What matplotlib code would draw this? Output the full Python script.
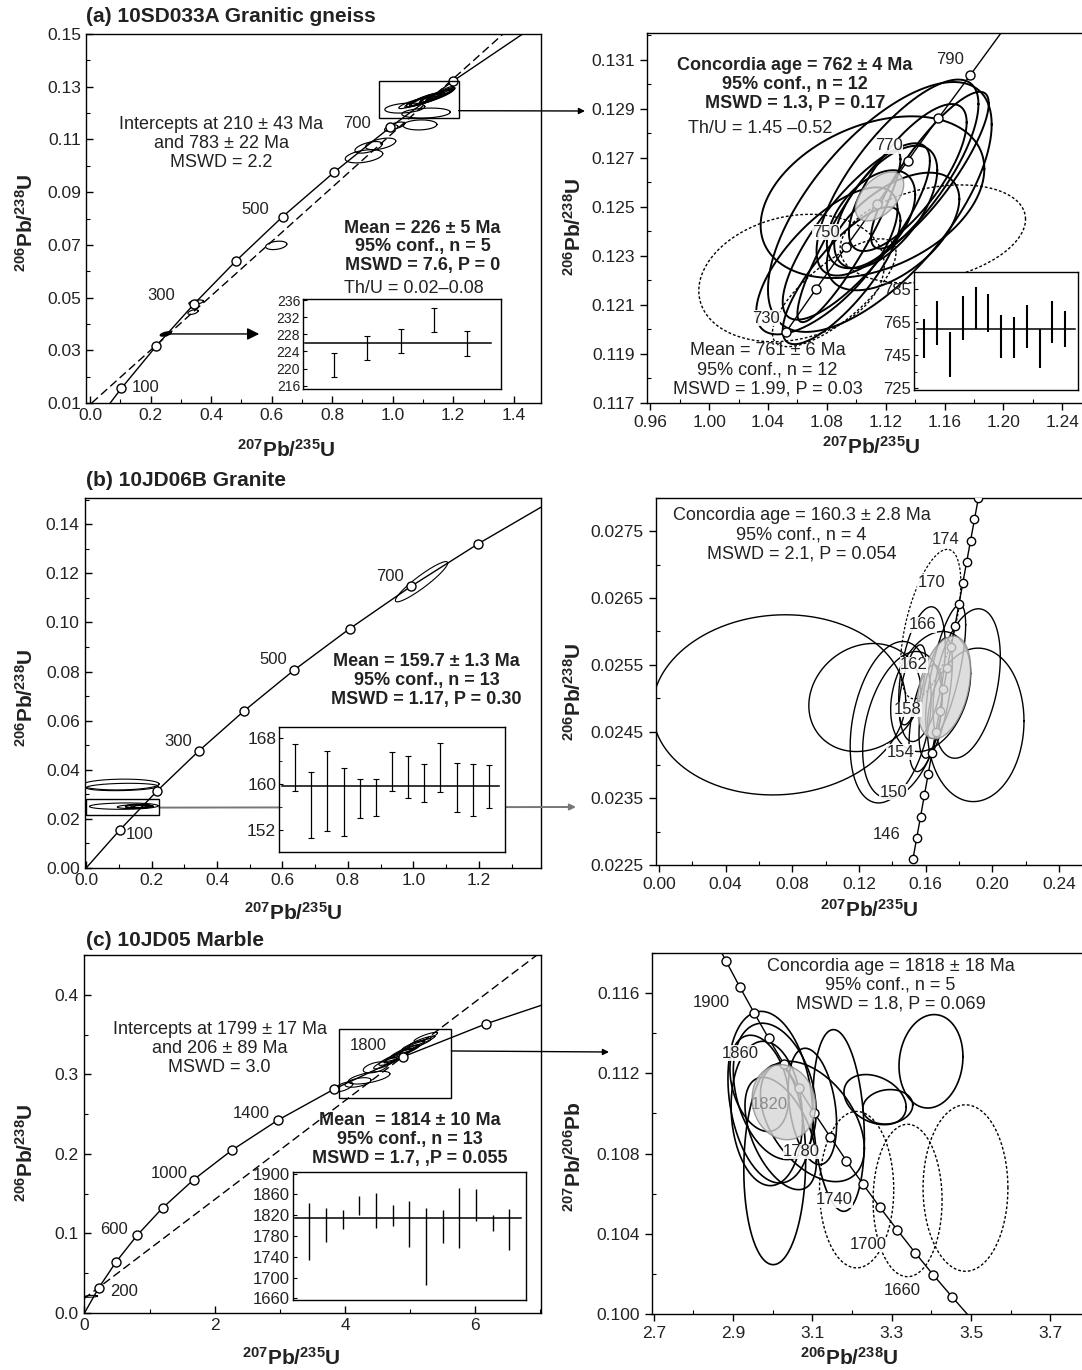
import numpy as np
import matplotlib
matplotlib.use("Agg")
import matplotlib.pyplot as plt
from matplotlib.patches import Rectangle
from matplotlib.ticker import FixedLocator, FormatStrFormatter, NullLocator

W, H = 1082, 1370

# ---------------- data ----------------
# concordia reference points, Wetherill (207Pb/235U, 206Pb/238U)
conc_ab_age = [0, 100, 200, 300, 400, 500, 600, 700, 800, 900, 1000]
conc_ab_x = [0.0, 0.1035, 0.2177, 0.3437, 0.4828, 0.6362, 0.8057, 0.9925, 1.1987, 1.4255, 1.6774]
conc_ab_y = [0.0, 0.0156, 0.0315, 0.0476, 0.0640, 0.0807, 0.0975, 0.1147, 0.1321, 0.1497, 0.1678]

conc_a2_age = [730, 740, 750, 760, 770, 780, 790, 800]
conc_a2_x = [1.0523, 1.0725, 1.0931, 1.1138, 1.1348, 1.1557, 1.1773, 1.1987]
conc_a2_y = [0.11990, 0.12164, 0.12338, 0.12512, 0.12687, 0.12862, 0.13037, 0.13213]

conc_b2_age = [144, 146, 148, 150, 152, 154, 156, 158, 160, 162, 164, 166, 168, 170, 172, 174, 176, 178, 180]
conc_b2_x = [0.15237, 0.15464, 0.15692, 0.15920, 0.16148, 0.16377, 0.16607, 0.16837, 0.17067, 0.17298,
             0.17529, 0.17761, 0.17993, 0.18226, 0.18459, 0.18692, 0.18926, 0.19161, 0.19396]
conc_b2_y = [0.022589, 0.022907, 0.023224, 0.023542, 0.023859, 0.024177, 0.024495, 0.024813, 0.025131,
             0.025449, 0.025767, 0.026085, 0.026404, 0.026722, 0.027041, 0.027359, 0.027678, 0.027997, 0.028316]

conc_c1_age = [0, 200, 400, 600, 800, 1000, 1200, 1400, 1600, 1800, 2000, 2200]
conc_c1_x = [0.0, 0.2177, 0.4828, 0.8057, 1.1987, 1.6774, 2.2603, 2.9703, 3.8344, 4.8870, 6.1687, 7.7299]
conc_c1_y = [0.0, 0.0315, 0.0640, 0.0975, 0.1321, 0.1678, 0.2046, 0.2426, 0.2817, 0.3221, 0.3638, 0.4067]

# Tera-Wasserburg reference points
conc_c2_age = [1940, 1920, 1900, 1880, 1860, 1840, 1820, 1800, 1780, 1760, 1740, 1720, 1700, 1680, 1660, 1640, 1620]
conc_c2_x = [2.8480, 2.8823, 2.9174, 2.9532, 2.9898, 3.0273, 3.0655, 3.1045, 3.1446, 3.1855, 3.2273,
             3.2701, 3.3140, 3.3588, 3.4048, 3.4519, 3.5000]
conc_c2_y = [0.11892, 0.11759, 0.11629, 0.11501, 0.11374, 0.11249, 0.11125, 0.11003, 0.10884, 0.10765,
             0.10648, 0.10532, 0.10419, 0.10306, 0.10195, 0.10086, 0.09978]

# discordia anchor points (lower / upper intercept)
disc_a_x = [0.2297, 1.1622]
disc_a_y = [0.03311, 0.12914]
disc_c_x = [0.2249, 4.8822]
disc_c_y = [0.03247, 0.32191]

# error ellipses (cx, cy, half-extent x, half-extent y, rho)
a1_ell = [
    (1.125, 0.1257, 0.065, 0.0030, 0.92), (1.100, 0.1250, 0.055, 0.0026, 0.90),
    (1.145, 0.1264, 0.055, 0.0026, 0.90), (1.160, 0.1272, 0.045, 0.0022, 0.92),
    (1.085, 0.1243, 0.045, 0.0022, 0.88), (1.130, 0.1260, 0.040, 0.0019, 0.90),
    (1.150, 0.1267, 0.040, 0.0020, 0.88), (1.110, 0.1252, 0.050, 0.0024, 0.85),
    (1.170, 0.1280, 0.035, 0.0017, 0.90), (1.095, 0.1247, 0.040, 0.0019, 0.88),
    (1.060, 0.1235, 0.040, 0.0018, 0.85), (1.140, 0.1262, 0.030, 0.0015, 0.90),
    (1.120, 0.1255, 0.030, 0.0015, 0.90), (1.175, 0.1287, 0.025, 0.0014, 0.90),
    (1.040, 0.1219, 0.066, 0.0019, 0.30), (1.110, 0.1200, 0.080, 0.0019, 0.20),
    (1.090, 0.1155, 0.056, 0.0019, 0.10), (1.010, 0.1152, 0.030, 0.0014, 0.60),
    (0.995, 0.1143, 0.022, 0.0012, 0.50), (0.960, 0.1083, 0.050, 0.0022, 0.50),
    (0.920, 0.1070, 0.045, 0.0022, 0.55), (0.905, 0.1036, 0.062, 0.0025, 0.40),
    (0.615, 0.0698, 0.035, 0.0016, 0.30), (0.350, 0.0482, 0.024, 0.0009, 0.50),
    (0.340, 0.0445, 0.017, 0.0009, 0.50),
]
a1_black = (0.250, 0.0362, 0.018, 0.0008, 0.60)

a2_ell = [
    (1.116, 0.1250, 0.076, 0.0051, 0.66), (1.111, 0.1254, 0.076, 0.0033, 0.35),
    (1.128, 0.1262, 0.055, 0.0040, 0.75), (1.080, 0.1228, 0.048, 0.0030, 0.70),
    (1.100, 0.1240, 0.050, 0.0036, 0.80), (1.135, 0.1262, 0.040, 0.0030, 0.75),
    (1.120, 0.1250, 0.035, 0.0025, 0.60), (1.095, 0.1238, 0.035, 0.0035, 0.90),
    (1.150, 0.1265, 0.040, 0.0032, 0.85), (1.110, 0.1245, 0.030, 0.0020, 0.50),
    (1.125, 0.1240, 0.045, 0.0024, 0.55), (1.090, 0.1222, 0.040, 0.0028, 0.80),
]
a2_dot = [
    (1.056, 0.1221, 0.063, 0.0026, 0.20), (1.152, 0.1239, 0.063, 0.0020, 0.30),
    (1.085, 0.1215, 0.042, 0.0022, 0.75),
]
a2_mean_ell = (1.1158, 0.12543, 0.0164, 0.00100, 0.50)

b1_ell = [
    (1.025, 0.1166, 0.080, 0.0082, 0.93), (0.105, 0.0340, 0.118, 0.0022, 0.10),
    (0.110, 0.0330, 0.110, 0.0015, 0.20), (0.115, 0.0252, 0.105, 0.0013, 0.10),
    (0.150, 0.0250, 0.055, 0.0008, 0.20), (0.160, 0.0251, 0.040, 0.0007, 0.30),
    (0.165, 0.0249, 0.030, 0.0006, 0.30), (0.155, 0.0253, 0.035, 0.0007, 0.20),
    (0.170, 0.0252, 0.025, 0.0006, 0.40),
]

b2_ell = [
    (0.072, 0.02490, 0.0760, 0.00135, 0.05), (0.1235, 0.02501, 0.0336, 0.00081, 0.15),
    (0.139, 0.02464, 0.0243, 0.00121, 0.30), (0.146, 0.02460, 0.0238, 0.00110, 0.35),
    (0.1578, 0.02536, 0.0140, 0.00101, 0.40), (0.1846, 0.02522, 0.0202, 0.00112, 0.35),
    (0.190, 0.02460, 0.0290, 0.00115, 0.05), (0.163, 0.02510, 0.0240, 0.00090, 0.30),
    (0.166, 0.02500, 0.0100, 0.00090, 0.60), (0.172, 0.02540, 0.0120, 0.00100, 0.70),
    (0.160, 0.02470, 0.0100, 0.00080, 0.50), (0.152, 0.02520, 0.0080, 0.00060, 0.60),
]
b2_dot = [(0.163, 0.02611, 0.0181, 0.00112, 0.55)]
b2_mean_ell = (0.171, 0.02516, 0.0160, 0.00077, 0.35)

c1_ell = [
    (3.98, 0.2845, 0.14, 0.0060, 0.60), (4.37, 0.2960, 0.32, 0.0080, 0.60),
    (4.47, 0.3090, 0.19, 0.0070, 0.50), (4.20, 0.2900, 0.20, 0.0060, 0.50),
    (4.62, 0.3140, 0.18, 0.0070, 0.85), (4.72, 0.3190, 0.20, 0.0075, 0.85),
    (4.82, 0.3240, 0.20, 0.0075, 0.90), (4.92, 0.3290, 0.22, 0.0080, 0.90),
    (5.02, 0.3340, 0.20, 0.0075, 0.90), (5.10, 0.3380, 0.22, 0.0070, 0.90),
    (5.18, 0.3420, 0.20, 0.0065, 0.90), (5.24, 0.3470, 0.18, 0.0060, 0.85),
    (4.88, 0.3270, 0.15, 0.0060, 0.90), (5.00, 0.3320, 0.15, 0.0055, 0.90),
    (4.75, 0.3200, 0.15, 0.0055, 0.90), (0.10, 0.0210, 0.10, 0.0012, 0.30),
]

c2_ell = [
    (2.994, 0.11081, 0.107, 0.00428, -0.22), (3.005, 0.11110, 0.1045, 0.00340, -0.30),
    (3.005, 0.10745, 0.078, 0.00499, 0.05), (3.100, 0.10960, 0.131, 0.00300, -0.45),
    (3.166, 0.10965, 0.065, 0.00453, -0.20), (3.100, 0.11035, 0.061, 0.00290, -0.30),
    (3.258, 0.11069, 0.0784, 0.00125, -0.30), (3.290, 0.11033, 0.063, 0.00086, 0.10),
    (3.399, 0.11260, 0.0806, 0.00233, 0.10), (2.966, 0.11150, 0.074, 0.00240, -0.30),
    (3.020, 0.10900, 0.090, 0.00280, -0.50), (2.985, 0.11000, 0.090, 0.00360, -0.10),
]
c2_dot = [
    (3.2115, 0.10620, 0.0936, 0.00390, 0.0), (3.340, 0.10566, 0.087, 0.00380, 0.0),
    (3.486, 0.10628, 0.107, 0.00415, 0.0),
]
c2_mean_ell = (3.028, 0.11056, 0.080, 0.00187, -0.10)

# weighted-mean insets: (low, high) ages of each spot
a1_lo = [217.9, 222.0, 223.6, 228.6, 223.0]
a1_hi = [223.7, 227.7, 229.2, 234.2, 228.8]
a1_mean = 226

a2_lo = [743, 751, 732, 754, 760.6, 759, 743, 743, 749, 737, 752, 750]
a2_hi = [766.6, 777.6, 758.6, 780.6, 785.8, 781.8, 769, 768, 775, 761, 777.6, 771.6]
a2_mean = 761

b1_lo = [158.8, 150.7, 151.9, 151.0, 154.2, 154.5, 158.8, 157.7, 156.9, 158.7, 155.1, 154.5, 155.8]
b1_hi = [167.0, 162.2, 165.8, 162.8, 161.0, 160.9, 165.6, 164.9, 163.5, 167.2, 163.7, 163.5, 163.3]
b1_mean = 159.7

c1_lo = [1733.6, 1768.8, 1793.1, 1820.0, 1796.3, 1799.5, 1757.9, 1685.6, 1767.5, 1756.0, 1808.5, 1789.9, 1752.8]
c1_hi = [1843.7, 1834.1, 1830.9, 1857.1, 1862.9, 1840.5, 1846.9, 1834.1, 1829.6, 1873.1, 1869.9, 1820.0, 1832.8]
c1_mean = 1814

# ---------------- style ----------------
plt.rcParams.update({
    "font.family": ["Liberation Sans", "DejaVu Sans"],
    "mathtext.fontset": "custom",
    "mathtext.rm": "Liberation Sans",
    "mathtext.bf": "Liberation Sans:bold",
    "mathtext.it": "Liberation Sans:italic",
    "axes.linewidth": 1.0,
})

fig = plt.figure(figsize=(W / 100, H / 100), dpi=100)

LAB_WL = "$^{\\mathbf{207}}$Pb/$^{\\mathbf{235}}$U"
LAB_WR = "$^{\\mathbf{206}}$Pb/$^{\\mathbf{238}}$U"
LAB_TW = "$^{\\mathbf{207}}$Pb/$^{\\mathbf{206}}$Pb"
TXT = 13
AGE_TXT = 12


def add_ax(box):
    l, t, r, b = box
    return fig.add_axes([l / W, 1 - b / H, (r - l) / W, (b - t) / H])


def ticks(start, stop, step):
    n = int(round((stop - start) / step))
    return [round(start + i * step, 6) for i in range(n + 1)]


def style_main(ax, box, xlim, ylim, xt, yt, xfmt, yfmt, xlab, ylab, xl_px, yl_px, outer=False):
    ax.set_xlim(*xlim)
    ax.set_ylim(*ylim)
    ax.xaxis.set_major_locator(FixedLocator(xt))
    ax.yaxis.set_major_locator(FixedLocator(yt))
    dx = xt[1] - xt[0]
    dy = yt[1] - yt[0]
    ax.xaxis.set_minor_locator(FixedLocator(ticks(xt[0] - dx / 2, xt[-1] + dx / 2, dx / 2)))
    ax.yaxis.set_minor_locator(FixedLocator(ticks(yt[0] - dy / 2, yt[-1] + dy / 2, dy / 2)))
    ax.xaxis.set_major_formatter(FormatStrFormatter(xfmt))
    ax.yaxis.set_major_formatter(FormatStrFormatter(yfmt))
    ax.tick_params(which="both", direction="in", labelsize=12.5, labelcolor="#222222")
    ax.tick_params(which="major", length=5, width=1.0)
    ax.tick_params(which="minor", length=3, width=0.8)
    if outer:
        ax.tick_params(axis="both", which="major", direction="out", length=5)
    l, t, r, b = box
    ax.set_xlabel(xlab, fontsize=15, fontweight="bold", color="#222222")
    ax.set_ylabel(ylab, fontsize=15, fontweight="bold", color="#222222")
    ax.xaxis.label.set_va("center")
    ax.yaxis.label.set_va("center")
    ax.yaxis.label.set_ha("center")
    ax.xaxis.set_label_coords((xl_px[0] - l) / (r - l), (b - xl_px[1]) / (b - t))
    ax.yaxis.set_label_coords((yl_px[0] - l) / (r - l), (b - yl_px[1]) / (b - t))


def ellipse_path(cx, cy, sx, sy, rho):
    t = np.linspace(0, 2 * np.pi, 241)
    x = cx + sx * np.cos(t)
    y = cy + sy * (rho * np.cos(t) + np.sqrt(1 - rho ** 2) * np.sin(t))
    return x, y


def draw_ellipses(ax, rows, lw=0.9, ls="-"):
    for row in rows:
        x, y = ellipse_path(*row)
        ax.plot(x, y, color="black", lw=lw, ls=ls, zorder=2)


def draw_mean_ellipse(ax, row):
    x, y = ellipse_path(*row)
    ax.fill(x, y, facecolor="#d6d6d6", edgecolor="#8a8a8a", lw=1.0, alpha=0.8, zorder=5.5)


def draw_concordia(ax, xs, ys, ages, marked, ms=6.5):
    ax.plot(xs, ys, color="black", lw=1.0, zorder=4)
    mx = [x for x, a in zip(xs, ages) if a in marked]
    my = [y for y, a in zip(ys, ages) if a in marked]
    ax.plot(mx, my, "o", ms=ms, mfc="white", mec="black", mew=1.0, zorder=5)


def age_label(ax, x, y, s, color="#222222", box=True):
    kw = dict(fontsize=AGE_TXT, ha="center", va="center", color=color, zorder=7)
    if box:
        kw["bbox"] = dict(facecolor="white", edgecolor="none", pad=0.3, alpha=0.9)
    ax.text(x, y, s, **kw)


def block(ax, x, y, s, bold=False, size=TXT):
    ax.text(x, y, s, ha="center", va="center", fontsize=size, linespacing=1.15,
            fontweight="bold" if bold else "normal", color="#222222", zorder=7)


def inset(box, lo, hi, mean, ylim, yt, xlim, size, caps=0, lw=1.0, minor=None, line_span=(0.01, 0.98)):
    ax = add_ax(box)
    ax.set_facecolor("white")
    ax.set_zorder(10)
    pos = np.arange(1, len(lo) + 1)
    lo = np.asarray(lo)
    hi = np.asarray(hi)
    mid = (lo + hi) / 2
    ax.errorbar(pos, mid, yerr=(hi - lo) / 2, fmt="none", ecolor="black", elinewidth=lw, capsize=caps, capthick=0.8)
    ax.axhline(mean, xmin=line_span[0], xmax=line_span[1], color="black", lw=1.1)
    ax.set_xlim(*xlim)
    ax.set_ylim(*ylim)
    ax.yaxis.set_major_locator(FixedLocator(yt))
    if minor is not None:
        ax.yaxis.set_minor_locator(FixedLocator(minor))
    ax.xaxis.set_major_locator(NullLocator())
    ax.tick_params(which="both", direction="in", labelsize=size, length=3, pad=2, labelcolor="#222222")
    ax.tick_params(which="minor", length=2)
    for s in ax.spines.values():
        s.set_linewidth(1.0)
    return ax


# ---------------- (a) left ----------------
box_a1 = (86, 34, 541, 403)
ax = add_ax(box_a1)
style_main(ax, box_a1, (-0.0136, 1.49), (0.01, 0.15), ticks(0, 1.4, 0.2), ticks(0.01, 0.15, 0.02),
           "%.1f", "%.2f", LAB_WL, LAB_WR, (286, 450), (26, 223))
ax.axline((disc_a_x[0], disc_a_y[0]), (disc_a_x[1], disc_a_y[1]), color="black", lw=1.0, ls=(0, (6, 3)))
draw_ellipses(ax, a1_ell, lw=0.85)
bx, by = ellipse_path(*a1_black)
ax.fill(bx, by, color="black", zorder=3)
draw_concordia(ax, conc_ab_x, conc_ab_y, conc_ab_age, set(range(100, 801, 100)))
ax.add_patch(Rectangle((0.953, 0.1181), 1.218 - 0.953, 0.1320 - 0.1181, fill=False, lw=1.0, zorder=6))
for x, y, s in [(0.185, 0.0157, "100"), (0.235, 0.0506, "300"), (0.546, 0.0836, "500"), (0.883, 0.1162, "700")]:
    age_label(ax, x, y, s, box=False)
block(ax, 0.433, 0.1085, "Intercepts at 210 ± 43 Ma\nand 783 ± 22 Ma\nMSWD = 2.2")
block(ax, 1.098, 0.0692, "Mean = 226 ± 5 Ma\n95% conf., n = 5\nMSWD = 7.6, P = 0", bold=True)
block(ax, 1.071, 0.0536, "Th/U = 0.02–0.08")
ax.annotate("", xy=(0.568, 0.0362), xytext=(0.25, 0.0362),
            arrowprops=dict(arrowstyle="-|>", lw=1.0, color="black", mutation_scale=18), zorder=6)
ax.annotate("", xy=(585 / W, 1 - 111 / H), xycoords="figure fraction", xytext=(1.218, 0.1209),
            textcoords="data", annotation_clip=False,
            arrowprops=dict(arrowstyle="-|>", lw=1.0, color="black", mutation_scale=9, shrinkA=0, shrinkB=0))
fig.text(86 / W, 1 - 17 / H, "(a) 10SD033A Granitic gneiss", fontsize=15, fontweight="bold",
         va="center", ha="left", color="#222222")
inset((303, 299, 501, 389), a1_lo, a1_hi, a1_mean, (215.2, 236.3), ticks(216, 236, 4), (0.06, 6.02), 10,
      caps=2, lw=0.9, line_span=(0.01, 0.95))

# ---------------- (a) right ----------------
box_a2 = (647, 33, 1090, 403)
ax = add_ax(box_a2)
style_main(ax, box_a2, (0.9578, 1.2588), (0.117, 0.1321), ticks(0.96, 1.24, 0.04), ticks(0.117, 0.131, 0.002),
           "%.2f", "%.3f", LAB_WL, LAB_WR, (871, 447), (574, 227), outer=True)
draw_ellipses(ax, a2_dot, lw=1.0, ls=(0, (2, 1.5)))
draw_ellipses(ax, a2_ell, lw=1.4)
draw_mean_ellipse(ax, a2_mean_ell)
draw_concordia(ax, conc_a2_x, conc_a2_y, conc_a2_age, set(range(730, 791, 10)))
age_label(ax, 1.1638, 0.1310, "790")
age_label(ax, 1.1221, 0.12749, "770")
age_label(ax, 1.0795, 0.12397, "750")
age_label(ax, 1.0385, 0.12046, "730")
block(ax, 1.0584, 0.1300, "Concordia age = 762 ± 4 Ma\n95% conf., n = 12\nMSWD = 1.3, P = 0.17", bold=True)
block(ax, 1.035, 0.1282, "Th/U = 1.45 –0.52")
block(ax, 1.0397, 0.11836, "Mean = 761 ± 6 Ma\n95% conf., n = 12\nMSWD = 1.99, P = 0.03")
inset((914, 272, 1078, 390), a2_lo, a2_hi, a2_mean, (724, 795), [725, 745, 765, 785], (0.2, 13.0), 12,
      caps=0, lw=1.5, minor=[735, 755, 775], line_span=(0.02, 0.98))

# ---------------- (b) left ----------------
box_b1 = (84.5, 498, 541, 868)
ax = add_ax(box_b1)
style_main(ax, box_b1, (-0.005, 1.39), (0.0, 0.1507), ticks(0, 1.4, 0.2), ticks(0, 0.14, 0.02),
           "%.1f", "%.2f", LAB_WL, LAB_WR, (293, 913), (26, 698))
draw_ellipses(ax, b1_ell, lw=0.8)
draw_concordia(ax, conc_ab_x, conc_ab_y, conc_ab_age, set(range(100, 801, 100)))
ax.add_patch(Rectangle((0.0, 0.0214), 0.224, 0.0281 - 0.0214, fill=False, lw=1.0, zorder=6))
for x, y, s in [(0.163, 0.0136, "100"), (0.280, 0.0514, "300"), (0.572, 0.085, "500"), (0.929, 0.1187, "700")]:
    age_label(ax, x, y, s, box=False)
block(ax, 1.040, 0.0765, "Mean = 159.7 ± 1.3 Ma\n95% conf., n = 13\nMSWD = 1.17, P = 0.30", bold=True)
ax.annotate("", xy=(576 / W, 1 - 807 / H), xycoords="figure fraction", xytext=(0.224, 0.0246),
            textcoords="data", annotation_clip=False,
            arrowprops=dict(arrowstyle="-|>", lw=1.4, color="#777777", mutation_scale=9, shrinkA=0, shrinkB=0))
fig.text(86 / W, 1 - 481 / H, "(b) 10JD06B Granite", fontsize=15, fontweight="bold",
         va="center", ha="left", color="#222222")
inset((279, 727, 505, 852), b1_lo, b1_hi, b1_mean, (148.2, 170.0), [152, 160, 168], (0, 14), 12.5,
      caps=2, lw=0.9, minor=[156, 164], line_span=(0.015, 0.975))

# ---------------- (b) right ----------------
box_b2 = (655.5, 498, 1090, 865)
ax = add_ax(box_b2)
style_main(ax, box_b2, (-0.0021, 0.2586), (0.0225, 0.0280), ticks(0, 0.24, 0.04), ticks(0.0225, 0.0275, 0.001),
           "%.2f", "%.4f", LAB_WL, LAB_WR, (869, 910), (574, 692), outer=True)
draw_ellipses(ax, b2_dot, lw=0.9, ls=(0, (2, 1.5)))
draw_ellipses(ax, b2_ell, lw=1.0)
draw_mean_ellipse(ax, b2_mean_ell)
draw_concordia(ax, conc_b2_x, conc_b2_y, conc_b2_age, set(range(144, 179, 2)), ms=6)
for x, y, s in [(0.1722, 0.02738, "174"), (0.1635, 0.02674, "170"), (0.1583, 0.0261, "166"),
                (0.153, 0.0255, "162"), (0.149, 0.02483, "158"), (0.1448, 0.02419, "154"),
                (0.1407, 0.02359, "150"), (0.1366, 0.02295, "146")]:
    age_label(ax, x, y, s)
block(ax, 0.0855, 0.02745, "Concordia age = 160.3 ± 2.8 Ma\n95% conf., n = 4\nMSWD = 2.1, P = 0.054")

# ---------------- (c) left ----------------
box_c1 = (83.5, 955, 541, 1313)
ax = add_ax(box_c1)
style_main(ax, box_c1, (-0.015, 7.01), (0.0, 0.4503), [0, 2, 4, 6], ticks(0, 0.4, 0.1),
           "%d", "%.1f", LAB_WL, LAB_WR, (291, 1358), (26, 1153))
ax.axline((disc_c_x[0], disc_c_y[0]), (disc_c_x[1], disc_c_y[1]), color="black", lw=1.0, ls=(0, (6, 3)))
draw_ellipses(ax, c1_ell, lw=0.8)
draw_concordia(ax, conc_c1_x, conc_c1_y, conc_c1_age, set(range(200, 2001, 200)))
ax.add_patch(Rectangle((3.915, 0.271), 5.635 - 3.915, 0.3573 - 0.271, fill=False, lw=1.0, zorder=6))
for x, y, s in [(0.608, 0.0272, "200"), (0.45, 0.1047, "600"), (1.296, 0.176, "1000"),
                (2.556, 0.2513, "1400"), (4.365, 0.337, "1800")]:
    age_label(ax, x, y, s, box=False)
block(ax, 2.074, 0.333, "Intercepts at 1799 ± 17 Ma\nand 206 ± 89 Ma\nMSWD = 3.0")
block(ax, 5.0, 0.2186, "Mean  = 1814 ± 10 Ma\n95% conf., n = 13\nMSWD = 1.7, ,P = 0.055", bold=True)
ax.annotate("", xy=(609 / W, 1 - 1052 / H), xycoords="figure fraction", xytext=(5.635, 0.3296),
            textcoords="data", annotation_clip=False,
            arrowprops=dict(arrowstyle="-|>", lw=1.0, color="black", mutation_scale=9, shrinkA=0, shrinkB=0))
fig.text(86 / W, 1 - 940 / H, "(c) 10JD05 Marble", fontsize=15, fontweight="bold",
         va="center", ha="left", color="#222222")
inset((293, 1172, 526, 1300), c1_lo, c1_hi, c1_mean, (1657, 1903), ticks(1660, 1900, 40), (0.03, 14.0), 12,
      caps=0, lw=1.0, line_span=(0.01, 0.98))

# ---------------- (c) right ----------------
box_c2 = (652, 953, 1090, 1314)
ax = add_ax(box_c2)
style_main(ax, box_c2, (2.6955, 3.80), (0.100, 0.118), ticks(2.7, 3.7, 0.2), ticks(0.100, 0.116, 0.004),
           "%.1f", "%.3f", LAB_WR, LAB_TW, (849, 1358), (574, 1157), outer=True)
draw_ellipses(ax, c2_dot, lw=1.0, ls=(0, (2, 1.5)))
draw_ellipses(ax, c2_ell, lw=1.2)
draw_concordia(ax, conc_c2_x, conc_c2_y, conc_c2_age, set(range(1640, 1921, 20)))
draw_mean_ellipse(ax, c2_mean_ell)
for x, y, s in [(2.845, 0.11555, "1900"), (2.918, 0.1130, "1860"), (3.073, 0.1081, "1780"),
                (3.155, 0.1057, "1740"), (3.24, 0.10346, "1700"), (3.327, 0.10116, "1660")]:
    age_label(ax, x, y, s)
age_label(ax, 2.992, 0.11043, "1820", color="#8a8a8a", box=False)
block(ax, 3.297, 0.11638, "Concordia age = 1818 ± 18 Ma\n95% conf., n = 5\nMSWD = 1.8, P = 0.069")

fig.savefig("out.png", dpi=100)
